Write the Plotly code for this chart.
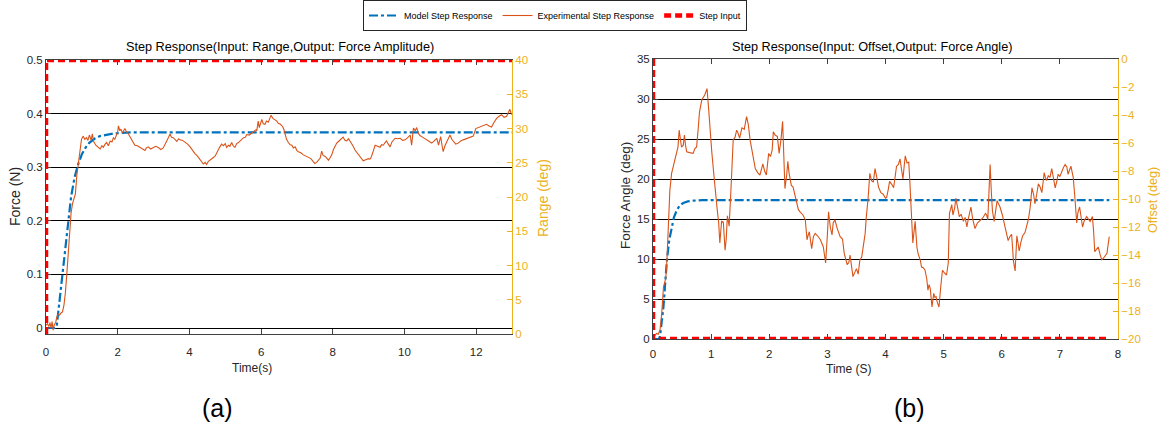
import plotly.graph_objects as go

W, H = 1166, 431
TOP_M = 30
FONT = "Liberation Sans, Arial, Helvetica, sans-serif"
AX = "#404040"
GOLD = "#EDB120"
BLUE = "#0072BD"
ORANGE = "#D95319"
RED = "#FF0000"

# ---------------- (a) Range -> Force amplitude ----------------
t_model_a = [0, 0.25, 0.30, 0.35, 0.40, 0.45, 0.50, 0.55, 0.60, 0.70, 0.80, 0.90,
             1.00, 1.10, 1.20, 1.35, 1.50, 1.70, 1.90, 2.10, 2.40, 13.0]
f_model_a = [0, 0, 0.004, 0.035, 0.062, 0.095, 0.130, 0.165, 0.195, 0.245, 0.282, 0.306,
             0.324, 0.336, 0.345, 0.353, 0.358, 0.361, 0.363, 0.364, 0.365, 0.365]

t_exp_a = [0.00, 0.04, 0.08, 0.11, 0.14, 0.17, 0.20, 0.23, 0.27, 0.30, 0.34, 0.38, 0.42, 0.46,
           0.50, 0.54, 0.58, 0.62, 0.66, 0.70, 0.74, 0.78, 0.82, 0.86, 0.90, 0.95, 0.99, 1.04,
           1.08, 1.13, 1.17, 1.21, 1.26, 1.29, 1.33, 1.39, 1.45, 1.51, 1.56, 1.60, 1.65, 1.69,
           1.74, 1.79, 1.84, 1.88, 1.92, 1.95, 2.00, 2.02, 2.06, 2.09, 2.13, 2.16, 2.20, 2.23,
           2.27, 2.30, 2.35, 2.39, 2.44, 2.48, 2.55, 2.62, 2.69, 2.76, 2.80, 2.85, 2.92, 2.99,
           3.06, 3.13, 3.20, 3.27, 3.32, 3.37, 3.42, 3.46, 3.50, 3.55, 3.60, 3.65, 3.70, 3.74,
           3.81, 3.88, 3.95, 4.02, 4.09, 4.16, 4.21, 4.25, 4.30, 4.34, 4.39, 4.44, 4.48, 4.53,
           4.58, 4.62, 4.67, 4.72, 4.78, 4.85, 4.90, 4.95, 5.00, 5.04, 5.09, 5.13, 5.18, 5.22,
           5.27, 5.32, 5.37, 5.44, 5.51, 5.56, 5.60, 5.67, 5.74, 5.80, 5.86, 5.88, 5.90, 5.92,
           5.95, 5.97, 6.00, 6.02, 6.06, 6.11, 6.15, 6.20, 6.25, 6.28, 6.33, 6.39, 6.44, 6.48,
           6.54, 6.60, 6.64, 6.67, 6.71, 6.76, 6.81, 6.86, 6.90, 6.95, 7.00, 7.04, 7.11, 7.18,
           7.25, 7.32, 7.39, 7.46, 7.50, 7.55, 7.60, 7.65, 7.69, 7.73, 7.79, 7.84, 7.88, 7.93,
           7.97, 8.02, 8.07, 8.11, 8.16, 8.22, 8.29, 8.34, 8.39, 8.44, 8.48, 8.53, 8.57, 8.62,
           8.69, 8.76, 8.81, 8.85, 8.92, 8.99, 9.04, 9.08, 9.13, 9.18, 9.25, 9.32, 9.36, 9.41,
           9.46, 9.50, 9.55, 9.60, 9.65, 9.70, 9.74, 9.81, 9.88, 9.95, 10.02, 10.09, 10.16,
           10.20, 10.23, 10.25, 10.30, 10.34, 10.39, 10.43, 10.48, 10.55, 10.62, 10.69, 10.76,
           10.83, 10.90, 10.95, 11.01, 11.05, 11.08, 11.13, 11.18, 11.23, 11.27, 11.32, 11.36,
           11.43, 11.50, 11.57, 11.64, 11.71, 11.78, 11.85, 11.92, 11.99, 12.07, 12.15, 12.22,
           12.29, 12.36, 12.43, 12.50, 12.57, 12.64, 12.71, 12.78, 12.85, 12.90, 12.94, 12.97,
           13.00]
f_exp_a = [0.005, 0.008, 0.003, 0.010, 0.000, 0.012, -0.004, 0.006, 0.010, 0.020, 0.026, 0.024,
           0.028, 0.030, 0.042, 0.065, 0.100, 0.140, 0.180, 0.215, 0.232, 0.240, 0.250, 0.285,
           0.305, 0.330, 0.352, 0.358, 0.352, 0.355, 0.350, 0.360, 0.350, 0.362, 0.348, 0.341,
           0.338, 0.334, 0.340, 0.337, 0.343, 0.346, 0.340, 0.349, 0.347, 0.355, 0.352, 0.358,
           0.366, 0.377, 0.368, 0.371, 0.364, 0.367, 0.372, 0.368, 0.365, 0.362, 0.356, 0.351,
           0.346, 0.341, 0.340, 0.337, 0.334, 0.331, 0.336, 0.338, 0.334, 0.336, 0.339, 0.337,
           0.333, 0.336, 0.342, 0.349, 0.356, 0.362, 0.356, 0.355, 0.351, 0.348, 0.353, 0.351,
           0.350, 0.347, 0.343, 0.338, 0.331, 0.325, 0.322, 0.318, 0.313, 0.310, 0.306, 0.309,
           0.305, 0.311, 0.313, 0.316, 0.318, 0.321, 0.330, 0.338, 0.343, 0.340, 0.344, 0.337,
           0.341, 0.339, 0.346, 0.340, 0.337, 0.344, 0.346, 0.350, 0.355, 0.356, 0.361, 0.360,
           0.364, 0.366, 0.370, 0.368, 0.382, 0.386, 0.374, 0.379, 0.385, 0.389, 0.381, 0.380,
           0.386, 0.384, 0.392, 0.397, 0.391, 0.389, 0.386, 0.382, 0.380, 0.376, 0.370, 0.362,
           0.352, 0.346, 0.342, 0.341, 0.336, 0.338, 0.331, 0.329, 0.327, 0.323, 0.321, 0.319,
           0.316, 0.310, 0.307, 0.309, 0.314, 0.317, 0.330, 0.322, 0.320, 0.316, 0.313, 0.318,
           0.323, 0.333, 0.341, 0.345, 0.348, 0.352, 0.356, 0.350, 0.349, 0.353, 0.349, 0.343,
           0.339, 0.332, 0.326, 0.320, 0.316, 0.312, 0.314, 0.316, 0.315, 0.320, 0.330, 0.341,
           0.339, 0.337, 0.342, 0.341, 0.346, 0.349, 0.343, 0.338, 0.347, 0.350, 0.354, 0.353,
           0.354, 0.350, 0.351, 0.355, 0.360, 0.341, 0.366, 0.373, 0.368, 0.374, 0.363, 0.359,
           0.357, 0.354, 0.351, 0.348, 0.345, 0.349, 0.354, 0.341, 0.357, 0.340, 0.329, 0.340,
           0.348, 0.355, 0.360, 0.352, 0.348, 0.343, 0.345, 0.349, 0.351, 0.353, 0.354, 0.356,
           0.358, 0.372, 0.374, 0.376, 0.378, 0.380, 0.377, 0.375, 0.384, 0.391, 0.395, 0.398,
           0.393, 0.395, 0.402, 0.408, 0.402, 0.398]

t_step_a = [0, 0, 13.0]
range_step_a = [0, 40, 40]

# ---------------- (b) Offset -> Force angle ----------------
t_model_b = [0, 0.10, 0.12, 0.15, 0.18, 0.21, 0.24, 0.28, 0.32, 0.36, 0.41, 0.46, 0.52,
             0.60, 0.70, 0.85, 7.85]
a_model_b = [0, 0, 0.3, 2.0, 4.0, 7.0, 9.9, 12.4, 14.0, 15.2, 16.1, 16.7, 17.0,
             17.2, 17.3, 17.35, 17.35]

t_exp_b = [0.00, 0.03, 0.06, 0.09, 0.12, 0.15, 0.18, 0.20, 0.22, 0.24, 0.27, 0.29, 0.32, 0.35,
           0.38, 0.41, 0.43, 0.45, 0.47, 0.49, 0.52, 0.54, 0.56, 0.58, 0.63, 0.69, 0.72, 0.75,
           0.78, 0.80, 0.84, 0.87, 0.89, 0.91, 0.93, 0.96, 0.98, 1.01, 1.04, 1.07, 1.10, 1.13,
           1.15, 1.18, 1.21, 1.24, 1.26, 1.28, 1.31, 1.34, 1.38, 1.41, 1.44, 1.46, 1.49, 1.53,
           1.57, 1.61, 1.64, 1.67, 1.71, 1.76, 1.80, 1.84, 1.89, 1.92, 1.95, 1.99, 2.02, 2.05,
           2.07, 2.10, 2.14, 2.17, 2.20, 2.23, 2.25, 2.27, 2.30, 2.32, 2.34, 2.36, 2.38, 2.41,
           2.44, 2.47, 2.50, 2.53, 2.58, 2.62, 2.65, 2.67, 2.69, 2.71, 2.73, 2.76, 2.79, 2.83,
           2.88, 2.93, 2.97, 3.00, 3.02, 3.05, 3.08, 3.10, 3.13, 3.17, 3.22, 3.26, 3.29, 3.34,
           3.37, 3.39, 3.42, 3.44, 3.47, 3.50, 3.53, 3.56, 3.59, 3.62, 3.65, 3.67, 3.70, 3.73,
           3.76, 3.79, 3.82, 3.85, 3.88, 3.92, 3.96, 4.00, 4.02, 4.05, 4.07, 4.11, 4.14, 4.17,
           4.19, 4.22, 4.25, 4.28, 4.30, 4.32, 4.34, 4.37, 4.40, 4.42, 4.43, 4.45, 4.47, 4.49,
           4.51, 4.54, 4.56, 4.60, 4.62, 4.65, 4.68, 4.71, 4.73, 4.75, 4.77, 4.80, 4.83, 4.85,
           4.87, 4.89, 4.92, 4.95, 4.98, 5.01, 5.05, 5.08, 5.10, 5.12, 5.14, 5.16, 5.19, 5.21,
           5.24, 5.27, 5.30, 5.34, 5.37, 5.40, 5.43, 5.47, 5.50, 5.54, 5.58, 5.63, 5.67, 5.72,
           5.74, 5.76, 5.78, 5.80, 5.82, 5.84, 5.87, 5.90, 5.92, 5.95, 5.97, 6.01, 6.06, 6.09,
           6.11, 6.14, 6.17, 6.19, 6.20, 6.23, 6.25, 6.26, 6.28, 6.30, 6.33, 6.36, 6.40, 6.43,
           6.46, 6.49, 6.52, 6.55, 6.57, 6.60, 6.63, 6.66, 6.69, 6.71, 6.73, 6.75, 6.77, 6.80,
           6.83, 6.86, 6.89, 6.92, 6.95, 6.97, 7.00, 7.03, 7.06, 7.09, 7.12, 7.14, 7.17, 7.19,
           7.21, 7.23, 7.26, 7.29, 7.31, 7.34, 7.36, 7.39, 7.42, 7.46, 7.49, 7.52, 7.54, 7.56,
           7.58, 7.60, 7.63, 7.66, 7.69, 7.72, 7.75, 7.77, 7.79, 7.81, 7.83, 7.85]
a_exp_b = [0.5, 0.4, 0.7, 0.6, 1.1, 3.2, 6.5, 7.2, 7.6, 9.9, 14.5, 18.6, 20.7, 21.6,
           22.3, 23.2, 24.0, 26.1, 25.0, 24.0, 24.2, 25.5, 24.2, 23.4, 23.3, 23.2, 23.8, 24.0,
           26.5, 28.4, 29.9, 30.2, 30.5, 30.9, 31.3, 28.5, 26.1, 23.5, 21.1, 18.5, 16.5, 14.5,
           12.0, 14.7, 14.6, 11.1, 12.5, 15.4, 14.1, 18.5, 24.9, 25.2, 26.1, 25.8, 25.1, 26.4,
           26.2, 27.8, 26.8, 24.9, 23.5, 21.3, 20.8, 20.5, 21.9, 21.0, 20.5, 23.2, 22.8, 23.6,
           25.9, 25.5, 25.3, 23.2, 24.8, 27.2, 23.0, 18.8, 20.5, 22.2, 20.8, 20.1, 19.2, 19.0,
           18.0, 17.4, 16.2, 15.9, 15.5, 14.9, 12.4, 13.0, 13.4, 12.3, 11.3, 12.8, 13.2, 12.9,
           12.4, 11.5, 9.5, 13.0, 15.9, 14.0, 13.0, 14.5, 14.9, 13.8, 12.8, 12.5, 10.7, 9.3,
           9.6, 10.5, 9.0, 7.8, 8.3, 8.8, 8.1, 9.9, 10.2, 11.9, 13.2, 15.3, 17.5, 20.7,
           19.8, 19.6, 21.3, 20.2, 19.0, 18.3, 18.1, 17.6, 17.7, 18.8, 19.7, 19.3, 18.9, 20.5,
           21.6, 21.8, 22.5, 21.0, 20.0, 21.5, 22.9, 22.0, 22.1, 19.5, 17.3, 15.0, 12.0, 13.5,
           14.7, 11.5, 10.7, 9.8, 9.0, 8.9, 8.6, 7.5, 6.1, 6.8, 6.3, 4.0, 5.7, 5.2,
           5.3, 4.6, 4.0, 6.5, 8.6, 8.3, 8.0, 9.5, 15.7, 16.2, 16.8, 15.5, 16.4, 17.6,
           16.2, 15.3, 15.6, 14.7, 15.2, 14.0, 15.2, 16.5, 15.0, 13.8, 14.5, 14.9, 15.1, 15.7,
           15.5, 14.9, 18.0, 21.8, 18.5, 16.0, 14.7, 16.5, 17.3, 16.8, 16.5, 15.5, 13.8, 13.0,
           12.3, 12.8, 13.1, 11.0, 9.8, 8.5, 11.5, 12.9, 12.0, 11.0, 12.1, 12.9, 13.3, 14.0,
           15.0, 16.5, 18.9, 18.0, 16.9, 18.0, 19.4, 19.0, 18.3, 19.5, 20.8, 20.2, 19.8, 20.4,
           20.2, 21.3, 20.0, 18.9, 19.8, 20.6, 20.3, 21.0, 21.4, 21.8, 21.5, 20.6, 21.2, 21.6,
           20.9, 20.2, 17.5, 14.5, 15.8, 16.5, 15.5, 14.0, 14.8, 15.3, 15.0, 14.7, 15.0, 15.3,
           13.5, 10.9, 11.2, 11.5, 10.6, 9.9, 10.1, 10.3, 10.5, 10.7, 11.8, 12.8]

t_step_b = [0, 0, 7.85]
offset_step_b = [0, -20, -20]

# ---------------- layout helpers ----------------
# paper coordinates measured in pixels from the top-left corner of the page
def px(x):
    return x / W

def py(y):
    return 1 - (y - TOP_M) / (H - TOP_M)

DOM_A_X = [px(46), px(512)]
DOM_A_Y = [py(334), py(60)]
DOM_B_X = [px(653), px(1118)]
DOM_B_Y = [py(339), py(59)]

fig = go.Figure()

model_line = dict(color=BLUE, width=2.2, dash="dashdot")
exp_line = dict(color=ORANGE, width=1.1)
step_line = dict(color=RED, width=4.5, dash="7px,4px")

# panel (a)
fig.add_trace(go.Scatter(x=t_model_a, y=f_model_a, mode="lines", line=model_line,
                         name="Model Step Response", xaxis="x", yaxis="y"))
fig.add_trace(go.Scatter(x=t_exp_a, y=f_exp_a, mode="lines", line=exp_line,
                         name="Experimental Step Response", xaxis="x", yaxis="y"))
fig.add_trace(go.Scatter(x=t_step_a, y=range_step_a, mode="lines", line=step_line,
                         name="Step Input", xaxis="x", yaxis="y2"))
# panel (b)
fig.add_trace(go.Scatter(x=t_model_b, y=a_model_b, mode="lines", line=model_line,
                         showlegend=False, xaxis="x2", yaxis="y3"))
fig.add_trace(go.Scatter(x=t_exp_b, y=a_exp_b, mode="lines", line=exp_line,
                         showlegend=False, xaxis="x2", yaxis="y3"))
fig.add_trace(go.Scatter(x=t_step_b, y=offset_step_b, mode="lines", line=step_line,
                         showlegend=False, xaxis="x2", yaxis="y4"))

tickfont = dict(family=FONT, size=11.5, color="#262626")
goldfont = dict(family=FONT, size=11.5, color=GOLD)

def xaxis(domain, anchor, rng, dtick, standoff):
    return dict(domain=domain, anchor=anchor, range=rng, dtick=dtick, tick0=0,
                showgrid=False, zeroline=False, showline=True, linecolor=AX, linewidth=1,
                mirror="ticks", ticks="inside", ticklen=5, tickcolor=AX,
                tickfont=tickfont, ticklabelstandoff=standoff, layer="below traces")

def yleft(domain, anchor, rng, dtick):
    return dict(domain=domain, anchor=anchor, range=rng, dtick=dtick, tick0=0,
                showgrid=True, gridcolor="#000000", gridwidth=1,
                zeroline=True, zerolinecolor="#000000", zerolinewidth=1,
                showline=True, linecolor=AX, linewidth=1, ticks="inside", ticklen=5,
                tickcolor=AX, tickfont=tickfont, layer="below traces")

def yright(overlay, anchor, rng, dtick):
    return dict(overlaying=overlay, anchor=anchor, side="right", range=rng, dtick=dtick,
                tick0=0, showgrid=False, zeroline=False, showline=True, linecolor=GOLD,
                linewidth=1, ticks="inside", ticklen=5, tickcolor=GOLD, tickfont=goldfont,
                layer="below traces")

fig.update_layout(
    width=W, height=H,
    margin=dict(l=0, r=0, t=TOP_M, b=0, autoexpand=False),
    paper_bgcolor="white", plot_bgcolor="white",
    font=dict(family=FONT, color="#262626"),
    xaxis=xaxis(DOM_A_X, "y", [0, 13], 2, 7),
    yaxis=yleft(DOM_A_Y, "x", [-0.0112, 0.5], 0.1),
    yaxis2=yright("y", "x", [0, 40], 5),
    xaxis2=xaxis(DOM_B_X, "y3", [0, 8], 1, 4),
    yaxis3=yleft(DOM_B_Y, "x2", [0, 35], 5),
    yaxis4=yright("y3", "x2", [-20, 0], 2),
    legend=dict(orientation="h", x=px(555), xanchor="center",
                yref="container", y=1.0, yanchor="top",
                font=dict(family=FONT, size=9, color="#000000"),
                bgcolor="white", bordercolor="#262626", borderwidth=1,
                itemwidth=30, tracegroupgap=0),
    showlegend=True,
)

def note(text, x, y, size=11, color="#000000", angle=0):
    fig.add_annotation(text=text, x=px(x), y=py(y), xref="paper", yref="paper",
                       showarrow=False, xanchor="center", yanchor="middle",
                       textangle=angle, font=dict(family=FONT, size=size, color=color))

note("Step Response(Input: Range,Output: Force Amplitude)", 280, 47, size=12.7)
note("Step Response(Input: Offset,Output: Force Angle)", 872, 47, size=12.7)
note("Time(s)", 252, 368, size=12, color="#262626")
note("Time (S)", 849, 369, size=12, color="#262626")
note("Force (N)", 15, 197, size=14, color="#262626", angle=-90)
note("Range (deg)", 543, 198, size=14, color=GOLD, angle=-90)
note("Force Angle (deg)", 625, 196, size=13.5, color="#262626", angle=-90)
note("Offset (deg)", 1153, 200, size=12.6, color=GOLD, angle=-90)
note("(a)", 217, 408, size=25)
note("(b)", 909, 408, size=25)

fig.write_html("out.html")
